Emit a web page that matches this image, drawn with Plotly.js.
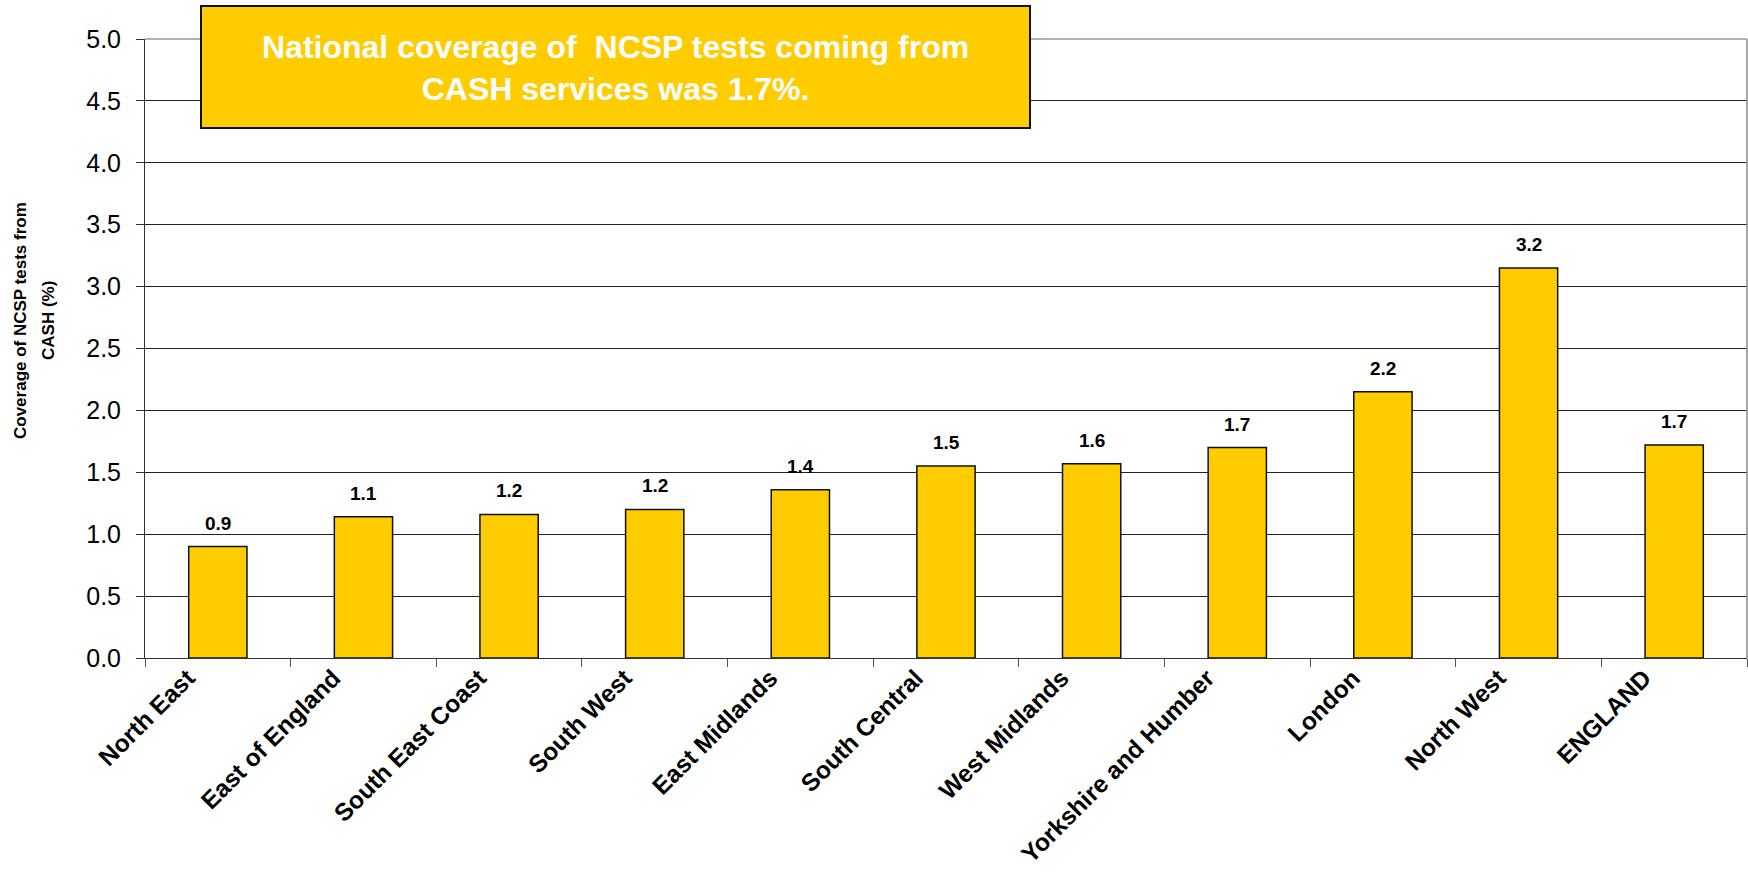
<!DOCTYPE html>
<html>
<head>
<meta charset="utf-8">
<script src="https://cdn.plot.ly/plotly-3.0.1.min.js"></script>
<style>html,body{margin:0;padding:0;background:#fff;overflow:hidden}</style>
</head>
<body>
<div id="chart" style="width:1748px;height:877px"></div>
<script>
// ---- data ----
const regions = ["North East", "East of England", "South East Coast", "South West", "East Midlands",
  "South Central", "West Midlands", "Yorkshire and Humber", "London", "North West", "ENGLAND"];
const coverage = [0.9, 1.14, 1.16, 1.2, 1.36, 1.55, 1.57, 1.7, 2.15, 3.15, 1.72];
const valueLabels = ["0.9", "1.1", "1.2", "1.2", "1.4", "1.5", "1.6", "1.7", "2.2", "3.2", "1.7"];
const yTickVals = [0, 0.5, 1, 1.5, 2, 2.5, 3, 3.5, 4, 4.5, 5];
const yTickText = ["0.0", "0.5", "1.0", "1.5", "2.0", "2.5", "3.0", "3.5", "4.0", "4.5", "5.0"];
const boxText = "National coverage of  NCSP tests coming from<br>CASH services was 1.7%.";
const yTitleLines = ["Coverage of NCSP tests from", "CASH (%)"];

// ---- layout geometry ----
const W = 1748, H = 877;
const M = {l: 145, r: 1, t: 39, b: 219};
const PW = W - M.l - M.r, PH = H - M.t - M.b;
const px = x => (x - M.l) / PW;          // pixel -> paper x
const py = y => (H - M.b - y) / PH;      // pixel -> paper y
const FONT = 'Arial, "Liberation Sans", sans-serif';

const trace = {
  type: 'bar',
  x: regions,
  y: coverage,
  marker: {color: '#FFCC00', line: {color: '#111111', width: 1.5}},
  hoverinfo: 'x+y'
};

const annotations = regions.map((r, i) => ({
  x: r, y: coverage[i], xref: 'x', yref: 'y',
  text: valueLabels[i], showarrow: false,
  yanchor: 'bottom', yshift: 11,
  font: {family: FONT, size: 19, color: '#000', weight: 'bold'}
}));

annotations.push({
  xref: 'paper', yref: 'paper',
  x: (px(201) + px(1030)) / 2, y: (py(8) + py(128)) / 2,
  xanchor: 'center', yanchor: 'middle',
  text: boxText, showarrow: false,
  font: {family: FONT, size: 32, color: '#FFFFFF', weight: 'bold'}
});

yTitleLines.forEach((t, i) => annotations.push({
  xref: 'paper', yref: 'paper', x: 0, y: py(321),
  xanchor: 'center', yanchor: 'middle',
  xshift: (i === 0 ? 20 : 48) - M.l,
  textangle: -90, text: t, showarrow: false,
  font: {family: FONT, size: 17, color: '#000', weight: 'bold'}
}));

const shapes = [
  {type: 'rect', xref: 'paper', yref: 'paper', layer: 'above',
   x0: px(201), x1: px(1030), y0: py(128), y1: py(6),
   fillcolor: '#FFCC00', line: {color: '#111', width: 2}},
  {type: 'line', xref: 'paper', yref: 'paper', layer: 'above',
   x0: 1, x1: 1, y0: 0, y1: 1, line: {color: '#888', width: 1.5}},
  {type: 'line', xref: 'paper', yref: 'paper', layer: 'below',
   x0: 0, x1: 1, y0: 1, y1: 1, line: {color: '#999', width: 1.5}}
];

const layout = {
  width: W, height: H,
  margin: M,
  paper_bgcolor: '#fff', plot_bgcolor: '#fff',
  showlegend: false,
  bargap: 0.6,
  font: {family: FONT, color: '#000'},
  xaxis: {
    type: 'category',
    showline: true, linecolor: '#333', linewidth: 1,
    ticks: 'outside', tickson: 'boundaries', ticklen: 8, tickcolor: '#555',
    tickangle: -45,
    ticklabelshift: -30, ticklabelstandoff: -5,
    tickfont: {family: FONT, size: 24.5, color: '#000', weight: 'bold'},
    showgrid: false, zeroline: false, fixedrange: true
  },
  yaxis: {
    range: [0, 5],
    tickmode: 'array', tickvals: yTickVals, ticktext: yTickText,
    showgrid: true, gridcolor: '#222', gridwidth: 1,
    showline: true, linecolor: '#333', linewidth: 1,
    ticks: 'outside', ticklen: 8, tickcolor: '#333',
    ticklabelstandoff: 10,
    tickfont: {family: FONT, size: 25, color: '#000'},
    zeroline: false, fixedrange: true
  },
  annotations: annotations,
  shapes: shapes
};

Plotly.newPlot('chart', [trace], layout, {displayModeBar: false, staticPlot: true});
</script>
</body>
</html>
